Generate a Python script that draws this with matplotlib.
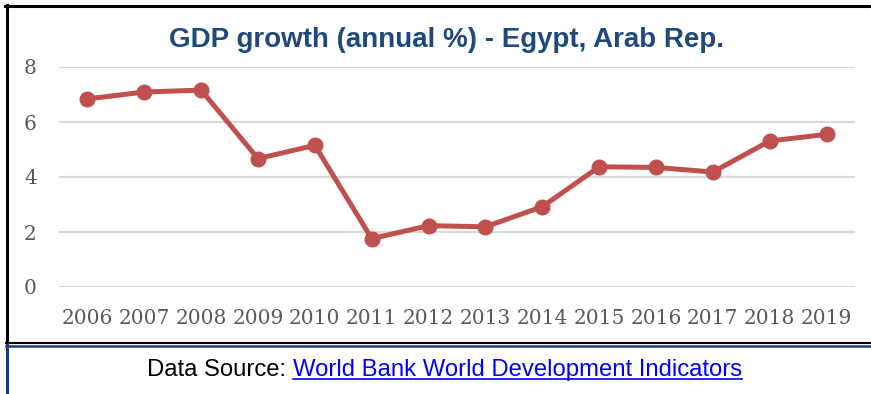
import matplotlib
matplotlib.use("Agg")
import matplotlib.pyplot as plt
from matplotlib.lines import Line2D

years = ["2006", "2007", "2008", "2009", "2010", "2011", "2012",
         "2013", "2014", "2015", "2016", "2017", "2018", "2019"]
gdp_growth = [6.84, 7.09, 7.16, 4.67, 5.15, 1.76, 2.23,
              2.19, 2.92, 4.37, 4.35, 4.18, 5.31, 5.55]
y_ticks = [0, 2, 4, 6, 8]

W, H = 871, 394
fig = plt.figure(figsize=(W / 100, H / 100), dpi=100)
fig.patch.set_facecolor("white")

def px(x, y):
    return x / W, 1 - y / H

# plot area
left, top = px(59, 67)
right, bottom = px(855, 287)
ax = fig.add_axes([left, bottom, right - left, top - bottom])
x = list(range(len(years)))
ax.plot(x, gdp_growth, color="#C0504D", lw=3.6, marker="o", ms=10.5,
        solid_capstyle="round", zorder=3)
ax.set_xlim(-0.5, len(years) - 0.5)
ax.set_ylim(0, 8)
ax.set_yticks(y_ticks)
ax.set_xticks(x)
ax.set_xticklabels(years)
for s in ax.spines.values():
    s.set_visible(False)
ax.grid(axis="y", color="#D9D9D9", lw=1.6)
ax.set_axisbelow(True)
ax.tick_params(length=0, labelsize=14.5, labelcolor="#595959")
ax.tick_params(axis="y", pad=16)
ax.tick_params(axis="x", pad=16)
for lab in ax.get_xticklabels() + ax.get_yticklabels():
    lab.set_fontfamily(["DejaVu Serif"])

# title
tx, ty = px(446, 40)
fig.text(tx, ty, "GDP growth (annual %) - Egypt, Arab Rep.", ha="center", va="center",
         fontsize=20, fontweight="bold", color="#1F497D",
         family=["Liberation Sans", "DejaVu Sans"])

# source line
sx, sy = px(147, 370)
t1 = fig.text(sx, sy, "Data Source: ", ha="left", va="center", fontsize=17.2,
              color="black", family=["Liberation Sans", "DejaVu Sans"])
fig.canvas.draw()
r = fig.canvas.get_renderer()
bb = t1.get_window_extent(r)
t2 = fig.text(bb.x1 / W, sy, "World Bank World Development Indicators", ha="left",
              va="center", fontsize=17.2, color="#0000FF",
              family=["Liberation Sans", "DejaVu Sans"])
fig.canvas.draw()
bb2 = t2.get_window_extent(r)
uy = (bb2.y0 + 2) / H
fig.add_artist(Line2D([bb2.x0 / W, bb2.x1 / W], [uy, uy], color="#0000FF", lw=1.2))

# frame lines
def hline(y, x0, x1, color, lw):
    a, yy = px(x0, y)
    b, _ = px(x1, y)
    fig.add_artist(Line2D([a, b], [yy, yy], color=color, lw=lw))

def vline(x, y0, y1, color, lw):
    xx, a = px(x, y0)
    _, b = px(x, y1)
    fig.add_artist(Line2D([xx, xx], [a, b], color=color, lw=lw))

hline(6, 5, 871, "black", 2.2)
vline(6.5, 5, 344, "black", 2.2)
hline(343, 6, 871, "black", 1.5)
hline(345.5, 6, 871, "#1F3A78", 1.8)
vline(6.5, 345, 394, "#1F3A78", 2.2)

fig.savefig("out.png", dpi=100, facecolor="white")
